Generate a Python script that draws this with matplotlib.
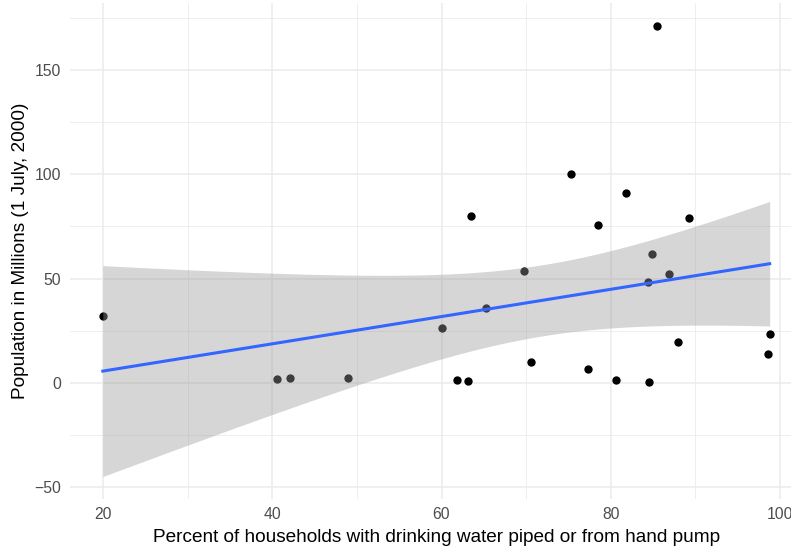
import numpy as np
import matplotlib
matplotlib.use("Agg")
import matplotlib.pyplot as plt
from matplotlib.ticker import MultipleLocator

# Data
water_pct = [19.96, 40.52, 42.09, 48.9, 60.09, 61.77, 63.16, 63.43, 65.29, 69.78,
             70.6, 75.36, 77.37, 78.47, 80.64, 81.82, 84.42, 84.54, 84.93, 85.52,
             86.9, 87.92, 89.22, 98.63, 98.79]
population = [32.2, 1.58, 2.4, 2.4, 26.2, 1.44, 0.77, 80.0, 35.7, 53.7,
              9.87, 100.4, 6.5, 75.7, 1.1, 91.2, 48.2, 0.29, 61.6, 171.3,
              52.0, 19.6, 79.1, 13.9, 23.5]
x_ticks = [20, 40, 60, 80, 100]
y_ticks = [-50, 0, 50, 100, 150]

plt.rcParams['font.family'] = ['Liberation Sans', 'DejaVu Sans']

x = np.array(water_pct)
y = np.array(population)
n = len(x)
slope, intercept = np.polyfit(x, y, 1)
xs = np.linspace(x.min(), x.max(), 80)
fit = intercept + slope * xs
resid = y - (intercept + slope * x)
s = np.sqrt(np.sum(resid ** 2) / (n - 2))
sxx = np.sum((x - x.mean()) ** 2)
se = s * np.sqrt(1.0 / n + (xs - x.mean()) ** 2 / sxx)
tq = 2.068658  # t(0.975, df=23)
lo = fit - tq * se
hi = fit + tq * se

W, H = 791, 548
fig = plt.figure(figsize=(W / 100, H / 100), dpi=100)
left, right = 69.5, 803.0
top, bottom = 3.3, 499.1
ax = fig.add_axes([left / W, (H - bottom) / H, (right - left) / W, (bottom - top) / H])

xr = x.max() - x.min()
ax.set_xlim(x.min() - 0.05 * xr, x.max() + 0.05 * xr)
ymin = min(y.min(), lo.min())
ymax = max(y.max(), hi.max())
yr = ymax - ymin
ax.set_ylim(ymin - 0.05 * yr, ymax + 0.05 * yr)

ax.set_xticks(x_ticks)
ax.set_yticks(y_ticks)
ax.xaxis.set_minor_locator(MultipleLocator(10))
ax.yaxis.set_minor_locator(MultipleLocator(25))
ax.grid(which='major', color='#EBEBEB', linewidth=1.1, zorder=0)
ax.grid(which='minor', color='#EBEBEB', linewidth=0.6, zorder=0)
ax.set_axisbelow(True)
for sp in ax.spines.values():
    sp.set_visible(False)
ax.tick_params(which='both', length=0, labelsize=11.3, labelcolor='#4D4D4D', pad=6)

ax.scatter(x, y, s=36, color='black', zorder=2, linewidths=0)
ax.fill_between(xs, lo, hi, color='#999999', alpha=0.4, linewidth=0, zorder=3)
ax.plot(xs, fit, color='#3366FF', linewidth=2.2, zorder=4)

ax.set_xlabel('Percent of households with drinking water piped or from hand pump',
              fontsize=13.7, color='black', labelpad=5)
ax.set_ylabel('Population in Millions (1 July, 2000)', fontsize=13.7, color='black', labelpad=4)

fig.savefig('out.png', dpi=100)
